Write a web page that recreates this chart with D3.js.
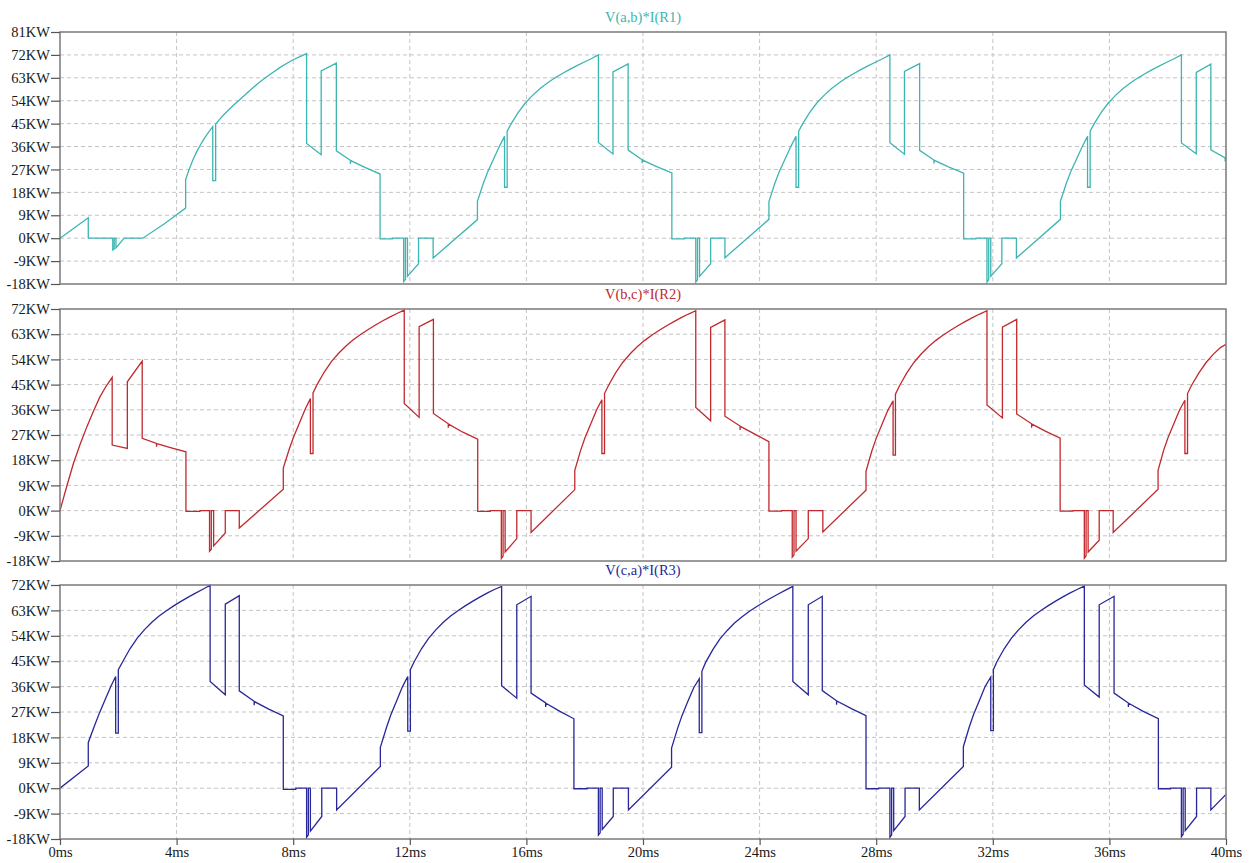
<!DOCTYPE html>
<html>
<head>
<meta charset="utf-8">
<script src="https://cdn.jsdelivr.net/npm/d3@7"></script>
<style>
  html, body { margin: 0; padding: 0; background: #ffffff; }
  svg { display: block; }
</style>
</head>
<body>
<svg id="chart" width="1250" height="863"></svg>
<script>
// ---------------- DATA ----------------
const titles = ["V(a,b)*I(R1)", "V(b,c)*I(R2)", "V(c,a)*I(R3)"];
const xTicks = [0, 4, 8, 12, 16, 20, 24, 28, 32, 36, 40];
const xTickLabels = ["0ms", "4ms", "8ms", "12ms", "16ms", "20ms", "24ms", "28ms", "32ms", "36ms", "40ms"];
const yTicksTop = [-18, -9, 0, 9, 18, 27, 36, 45, 54, 63, 72, 81];
const yTicksOther = [-18, -9, 0, 9, 18, 27, 36, 45, 54, 63, 72];

// time (ms), power (KW)
const seriesAB = [
  [0,0],[0.97,8],[0.97,0],[1.81,0],[1.81,-4.6],[1.86,-4.2],[1.86,0],[1.92,0],[1.92,-3.8],[2.2,0],[2.84,0],[3.57,5.6],[4.31,11.8],[4.31,23],[4.43,27],[4.55,30.5],[4.68,33.7],[4.8,36.3],[4.93,38.8],[5.05,40.9],[5.24,43.8],[5.24,22.6],[5.34,22.6],[5.34,44.9],[5.6,48.3],[5.95,52.2],[6.25,55.3],[6.52,58.1],[6.8,60.9],[7.09,63.4],[7.3,65.1],[7.55,67.1],[7.8,68.8],[8.0,70.1],[8.25,71.4],[8.46,72.5],
  [8.46,37.2],[8.96,32.8],[8.96,65.7],[9.48,68.8],[9.48,34.3],[9.96,30.6],[9.96,29.2],[9.97,30.5],[10.46,27.8],[10.98,25.2],[10.98,-0.3],[11.41,-0.3],[11.41,0],[11.79,0],[11.79,-17],[11.85,-16.2],[11.85,0],[11.92,0],[11.92,-15],[12.3,-10],[12.3,0],[12.8,0],[12.8,-7.8],
  [14.32,7.3],[14.32,14.5],[14.52,21.5],[14.67,26],[14.87,31],[15.07,36],[15.25,40],[15.25,20],[15.34,20],[15.34,42],[15.47,44.8],[15.72,49.4],[15.97,53.2],[16.22,56.2],[16.47,58.8],[16.72,61],[16.97,62.9],[17.22,64.6],[17.47,66.2],[17.72,67.7],[17.97,69.1],[18.22,70.5],[18.47,72],
  [18.47,37.6],[18.97,33.1],[18.97,65.3],[19.49,68.5],[19.49,34.6],[19.97,30.8],[19.97,29.4],[19.98,30.7],[20.47,28.1],[20.99,25.6],[20.99,-0.3],[21.42,-0.3],[21.42,0],[21.81,0],[21.81,-17.2],[21.87,-16.3],[21.87,0],[21.94,0],[21.94,-15],[22.32,-10],[22.32,0],[22.81,0],[22.81,-7.7],
  [24.32,7.4],[24.32,14.4],[24.52,21.5],[24.67,26],[24.87,31],[25.07,36],[25.25,40],[25.25,20],[25.34,20],[25.34,42],[25.47,44.8],[25.72,49.4],[25.97,53.2],[26.22,56.2],[26.47,58.8],[26.72,61],[26.97,62.9],[27.22,64.6],[27.47,66.2],[27.72,67.7],[27.97,69.1],[28.22,70.5],[28.47,72],
  [28.47,37.5],[28.97,33],[28.97,65.5],[29.49,68.6],[29.49,34.5],[29.98,30.7],[29.98,29.3],[29.99,30.6],[30.48,28],[31.0,25.5],[31.0,-0.3],[31.42,-0.3],[31.42,0],[31.8,0],[31.8,-17.2],[31.86,-16.3],[31.86,0],[31.93,0],[31.93,-15],[32.31,-10],[32.31,0],[32.81,0],[32.81,-7.8],
  [34.32,7.4],[34.32,14.5],[34.52,21.5],[34.67,26],[34.87,31],[35.07,36],[35.25,40],[35.25,20],[35.34,20],[35.34,42],[35.47,44.8],[35.72,49.4],[35.97,53.2],[36.22,56.2],[36.47,58.8],[36.72,61],[36.97,62.9],[37.22,64.6],[37.47,66.2],[37.72,67.7],[37.97,69.1],[38.22,70.5],[38.47,72],
  [38.47,37.4],[38.98,33.2],[38.98,65.1],[39.48,68.4],[39.48,34.7],[39.97,31.5],[39.97,30.1],[39.98,31.4],[40,31.1]
];

const seriesBC = [
  [0,0],[0.23,8.6],[0.46,16.8],[0.69,23.7],[0.92,29.9],[1.15,35.6],[1.37,40.6],[1.58,44.4],[1.79,47.6],[1.79,23.4],[2.31,22.2],[2.31,46],[2.82,53.4],[2.82,25.8],[3.31,24],[3.31,22.8],[3.32,23.9],[3.82,22.4],[4.32,21],[4.32,-0.3],[4.8,-0.3],[4.8,0],[5.13,0],[5.13,-14.5],[5.19,-13.8],[5.19,0],[5.27,0],[5.27,-12.6],[5.67,-8],[5.67,0],[6.15,0],[6.15,-6.2],
  [7.66,7.6],[7.66,15.2],[7.86,21.8],[8.01,26.2],[8.21,31.2],[8.41,36.2],[8.59,40],[8.59,20.4],[8.68,20.4],[8.68,42],[8.81,44.8],[9.06,49.4],[9.31,53.2],[9.56,56.2],[9.81,58.8],[10.06,61],[10.31,62.9],[10.56,64.6],[10.81,66.2],[11.06,67.7],[11.31,69.1],[11.56,70.4],[11.81,71.6],
  [11.81,38.3],[12.32,33.3],[12.32,65.7],[12.81,68.3],[12.81,34.7],[13.32,31],[13.32,29.6],[13.33,30.9],[13.82,28],[14.33,25.5],[14.33,-0.3],[14.76,-0.3],[14.76,0],[15.14,0],[15.14,-17.1],[15.2,-16.2],[15.2,0],[15.27,0],[15.27,-14.8],[15.67,-10],[15.67,0],[16.16,0],[16.16,-7.8],
  [17.66,7.5],[17.66,14.4],[17.86,21.5],[18.01,26],[18.21,31],[18.41,36],[18.59,39.6],[18.59,20.4],[18.68,20.4],[18.68,41.8],[18.81,44.6],[19.06,49.2],[19.31,53],[19.56,56],[19.81,58.6],[20.06,60.8],[20.31,62.7],[20.56,64.4],[20.81,66],[21.06,67.5],[21.31,68.9],[21.56,70.2],[21.81,71.4],
  [21.81,36.8],[22.32,32.1],[22.32,65.4],[22.81,68.1],[22.81,33.7],[23.33,30.2],[23.33,28.8],[23.34,30.1],[23.82,27.4],[24.32,24.6],[24.32,-0.2],[24.75,-0.2],[24.75,0],[25.12,0],[25.12,-16.6],[25.18,-15.8],[25.18,0],[25.25,0],[25.25,-14.5],[25.67,-10],[25.67,0],[26.17,0],[26.17,-7.6],
  [27.65,7.3],[27.65,14],[27.85,21.3],[28.0,25.8],[28.2,30.8],[28.4,35.8],[28.58,39.2],[28.58,19.8],[28.66,19.8],[28.66,41.6],[28.8,44.6],[29.05,49.2],[29.3,53],[29.55,56],[29.8,58.6],[30.05,60.8],[30.3,62.7],[30.55,64.4],[30.8,66],[31.05,67.5],[31.3,68.9],[31.55,70.2],[31.8,71.4],
  [31.8,37.7],[32.33,33.1],[32.33,65.5],[32.82,68.3],[32.82,34.5],[33.33,31],[33.33,29.6],[33.34,30.9],[33.82,28.3],[34.31,25.9],[34.31,-0.2],[34.75,-0.2],[34.75,0],[35.14,0],[35.14,-17],[35.2,-16.1],[35.2,0],[35.27,0],[35.27,-14.8],[35.65,-10.6],[35.65,0],[36.13,0],[36.13,-7.8],
  [37.67,7.6],[37.67,14.4],[37.86,21.5],[38.01,26],[38.21,31],[38.41,36],[38.59,39.4],[38.59,20.4],[38.68,20.4],[38.68,41.8],[38.81,44.6],[39.06,49],[39.31,52.8],[39.56,55.8],[39.81,58.2],[40,59.4]
];

const seriesCA = [
  [0,0],[0.97,7.9],[0.97,16.2],[1.2,22.6],[1.35,26.6],[1.55,31.4],[1.75,36.2],[1.91,39.6],[1.91,19.5],[2.0,19.5],[2.0,42],[2.15,44.8],[2.4,49.4],[2.65,53.2],[2.9,56.2],[3.15,58.8],[3.4,61],[3.65,62.9],[3.9,64.6],[4.15,66.2],[4.4,67.7],[4.65,69.1],[4.9,70.5],[5.15,71.9],
  [5.15,37.8],[5.67,33.1],[5.67,65.2],[6.15,68.2],[6.15,34.5],[6.66,30.8],[6.66,29.4],[6.67,30.7],[7.16,28],[7.66,25.6],[7.66,-0.4],[8.09,-0.4],[8.09,0],[8.46,0],[8.46,-17.4],[8.52,-16.5],[8.52,0],[8.59,0],[8.59,-15.2],[8.98,-10],[8.98,0],[9.49,0],[9.49,-7.7],
  [10.99,7.7],[10.99,14.5],[11.2,21.5],[11.35,26],[11.55,31],[11.75,36],[11.93,39.6],[11.93,20.2],[12.02,20.2],[12.02,42],[12.15,44.8],[12.4,49.4],[12.65,53.2],[12.9,56.2],[13.15,58.8],[13.4,61],[13.65,62.9],[13.9,64.6],[14.15,66.2],[14.4,67.7],[14.65,69.1],[14.9,70.4],[15.15,71.5],
  [15.15,36.3],[15.67,31.9],[15.67,65],[16.16,68],[16.16,33.7],[16.66,30.2],[16.66,28.8],[16.67,30.1],[17.15,27.2],[17.63,24.6],[17.63,-0.2],[18.08,-0.2],[18.08,0],[18.47,0],[18.47,-16.6],[18.53,-15.8],[18.53,0],[18.6,0],[18.6,-14.6],[18.98,-10],[18.98,0],[19.5,0],[19.5,-7.7],
  [20.98,7.4],[20.98,14.2],[21.19,21.3],[21.34,25.8],[21.54,30.8],[21.74,35.6],[21.93,38.8],[21.93,19.7],[22.02,19.7],[22.02,41.4],[22.14,44.4],[22.39,49],[22.64,52.9],[22.89,55.9],[23.14,58.5],[23.39,60.7],[23.64,62.6],[23.89,64.3],[24.14,65.9],[24.39,67.4],[24.64,68.8],[24.89,70.2],[25.14,71.5],
  [25.14,37.8],[25.67,33.1],[25.67,65],[26.15,68],[26.15,34.6],[26.64,31],[26.64,29.6],[26.65,30.9],[27.15,28.2],[27.65,25.7],[27.65,-0.2],[28.08,-0.2],[28.08,0],[28.47,0],[28.47,-17.4],[28.53,-16.5],[28.53,0],[28.6,0],[28.6,-15],[28.99,-10],[28.99,0],[29.48,0],[29.48,-7.7],
  [30.99,7.7],[30.99,14.7],[31.19,21.6],[31.34,26.1],[31.54,31.1],[31.74,36.1],[31.93,39.4],[31.93,20.4],[32.02,20.4],[32.02,42],[32.14,44.8],[32.39,49.4],[32.64,53.2],[32.89,56.2],[33.14,58.8],[33.39,61],[33.64,62.9],[33.89,64.6],[34.14,66.2],[34.39,67.7],[34.64,69.1],[34.89,70.4],[35.14,71.6],
  [35.14,36.6],[35.65,32.3],[35.65,65],[36.16,68],[36.16,33.7],[36.65,30.2],[36.65,28.8],[36.66,30.1],[37.16,27.2],[37.68,24.6],[37.68,-0.2],[38.1,-0.2],[38.1,0],[38.47,0],[38.47,-17.2],[38.53,-16.3],[38.53,0],[38.6,0],[38.6,-15],[38.99,-10],[38.99,0],[39.48,0],[39.48,-7.7],[40,-2.2]
];

const seriesList = [seriesAB, seriesBC, seriesCA];
const seriesColors = ["#3db5b1", "#c0292d", "#27279a"];
const yTickSets = [yTicksTop, yTicksOther, yTicksOther];

// ---------------- LAYOUT ----------------
const svg = d3.select("#chart");
const left = 60, right = 1226;
const panels = [
  { top: 32, bottom: 284 },
  { top: 309, bottom: 561 },
  { top: 585, bottom: 839 }
];
const FONT = "'Liberation Serif', 'Times New Roman', serif";

const x = d3.scaleLinear().domain([0, 40]).range([left, right]);

const defs = svg.append("defs");

panels.forEach((p, i) => {
  const ticks = yTickSets[i];
  const y = d3.scaleLinear().domain([ticks[0], ticks[ticks.length - 1]]).range([p.bottom, p.top]);
  const g = svg.append("g");

  // vertical grid
  g.append("g")
    .selectAll("line")
    .data(xTicks.slice(1, -1))
    .join("line")
    .attr("x1", d => x(d)).attr("x2", d => x(d))
    .attr("y1", p.top).attr("y2", p.bottom)
    .attr("stroke", "#c4c4c4").attr("stroke-width", 1)
    .attr("stroke-dasharray", "4,3");

  // horizontal grid
  g.append("g")
    .selectAll("line")
    .data(ticks.slice(1, -1))
    .join("line")
    .attr("x1", left).attr("x2", right)
    .attr("y1", d => y(d)).attr("y2", d => y(d))
    .attr("stroke", "#c4c4c4").attr("stroke-width", 1)
    .attr("stroke-dasharray", "4,3");

  // clip
  defs.append("clipPath").attr("id", "clip" + i)
    .append("rect").attr("x", left).attr("y", p.top - 1)
    .attr("width", right - left).attr("height", p.bottom - p.top + 2);

  const line = d3.line().x(d => x(d[0])).y(d => y(d[1]));
  g.append("path")
    .datum(seriesList[i])
    .attr("clip-path", "url(#clip" + i + ")")
    .attr("d", line)
    .attr("fill", "none")
    .attr("stroke", seriesColors[i])
    .attr("stroke-width", 1.3)
    .attr("stroke-linejoin", "miter");

  // frame
  g.append("rect")
    .attr("x", left).attr("y", p.top)
    .attr("width", right - left).attr("height", p.bottom - p.top)
    .attr("fill", "none").attr("stroke", "#7a7a7a").attr("stroke-width", 1.5);

  // y axis
  const yAxis = d3.axisLeft(y).tickValues(ticks).tickSize(9).tickPadding(1)
    .tickFormat(d => d + "KW");
  const ya = g.append("g").attr("transform", `translate(${left},0)`).call(yAxis);
  ya.select(".domain").remove();
  ya.selectAll(".tick line").attr("stroke", "#555").attr("stroke-width", 1.2);
  ya.selectAll(".tick text")
    .attr("font-family", FONT).attr("font-size", 14.5).attr("fill", "#1a1a1a");

  // title
  svg.append("text")
    .attr("x", (left + right) / 2).attr("y", p.top - 10)
    .attr("text-anchor", "middle")
    .attr("font-family", FONT).attr("font-size", 14.5)
    .attr("fill", seriesColors[i])
    .text(titles[i]);

  // x axis on bottom panel
  if (i === panels.length - 1) {
    const xAxis = d3.axisBottom(x).tickValues(xTicks).tickSize(6).tickPadding(2)
      .tickFormat((d, k) => xTickLabels[k]);
    const xa = svg.append("g").attr("transform", `translate(0,${p.bottom})`).call(xAxis);
    xa.select(".domain").remove();
    xa.selectAll(".tick line").attr("stroke", "#555").attr("stroke-width", 1.2);
    xa.selectAll(".tick text")
      .attr("font-family", FONT).attr("font-size", 14.5).attr("fill", "#1a1a1a");
  }
});
</script>
</body>
</html>
